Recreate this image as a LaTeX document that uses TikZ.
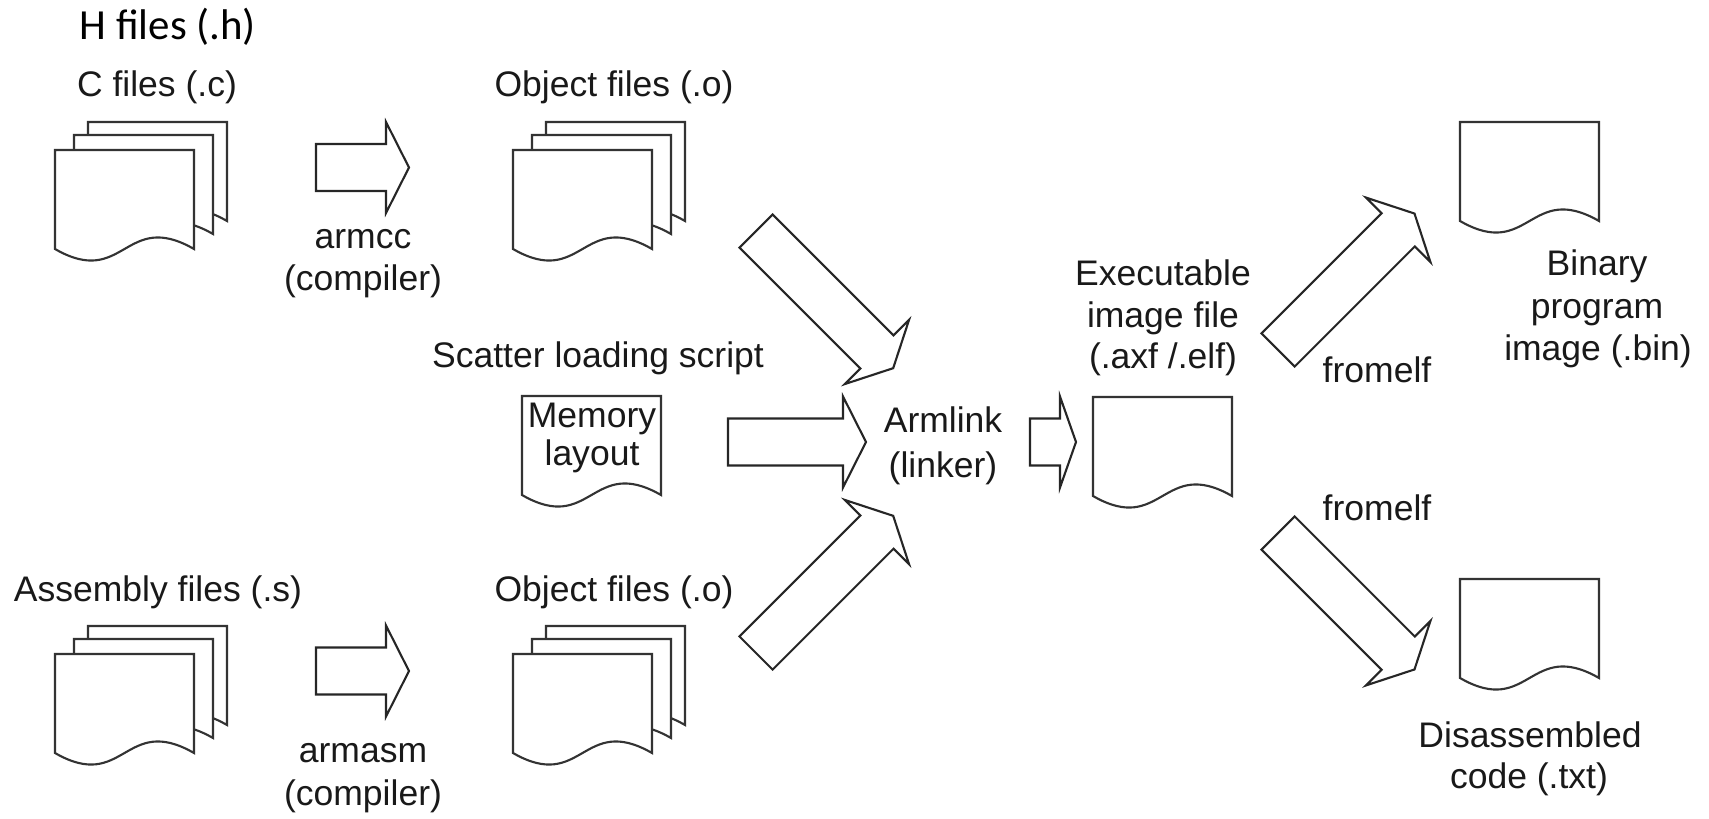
\documentclass[tikz,border=0pt]{standalone}
\usepackage{fontspec}
\setmainfont{Liberation Sans}
\newfontfamily\calibri{Carlito}
\tikzset{
  lbl/.style={font=\fontsize{10.1}{12}\selectfont, inner sep=0pt, anchor=base, text=black!90},
  hlbl/.style={font=\calibri\fontsize{12.2}{14}\selectfont, inner sep=0pt, anchor=base west, text=black},
  pg/.style={draw=black!80, line width=0.6pt, fill=white, line join=miter},
  blk/.style={draw=black!85, line width=0.6pt, fill=white, line join=miter},
  pics/page/.style={code={
    \path[pg] (0,0) -- (139,0) -- (139,99) .. controls (69.5,59) and (69.5,139) .. (0,99) -- cycle;
  }},
  pics/stack/.style={code={
    \pic at (33,-28) {page};
    \pic at (19,-15) {page};
    \pic at (0,0) {page};
  }},
  pics/barrow/.style n args={2}{code={
    \path[blk] (0,-23.5) -- (#1,-23.5) -- (#1,-45.5) -- ({#1+#2},0) -- (#1,45.5) -- (#1,23.5) -- (0,23.5) -- cycle;
  }}
}
\begin{document}
\begin{tikzpicture}[x=0.01cm, y=-0.01cm]
\useasboundingbox (0,0) rectangle (1709,818);

% ---- labels ----
\node[hlbl] (hfiles) at (79,39) {H files (.h)};
\node[lbl] (cfiles) at (157,97) {C files (.c)};
\node[lbl] (objtop) at (614,97) {Object files (.o)};
\node[lbl] (armcc1) at (363,248) {armcc};
\node[lbl] (armcc2) at (363,290) {(compiler)};
\node[lbl] (scatter) at (598,367) {Scatter loading script};
\node[lbl] (asmfiles) at (158,601) {Assembly files (.s)};
\node[lbl] (objbot) at (614,601) {Object files (.o)};
\node[lbl] (armasm1) at (363,762) {armasm};
\node[lbl] (armasm2) at (363,805) {(compiler)};
\node[lbl] (armlink1) at (943,432) {Armlink};
\node[lbl] (armlink2) at (943,477) {(linker)};
\node[lbl] (exe1) at (1163,285) {Executable};
\node[lbl] (exe2) at (1163,327) {image file};
\node[lbl] (exe3) at (1163,368) {(.axf /.elf)};
\node[lbl] (fromelf1) at (1377,382) {fromelf};
\node[lbl] (fromelf2) at (1377,520) {fromelf};
\node[lbl] (bin1) at (1597,275) {Binary};
\node[lbl] (bin2) at (1597,318) {program};
\node[lbl] (bin3) at (1598,360) {image (.bin)};
\node[lbl] (dis1) at (1530,747) {Disassembled};
\node[lbl] (dis2) at (1529,788) {code (.txt)};

% ---- documents ----
\pic at (55,150) {stack};
\pic at (513,150) {stack};
\pic at (55,654) {stack};
\pic at (513,654) {stack};
\pic at (522,396) {page};
\pic at (1093,397) {page};
\pic at (1460,122) {page};
\pic at (1460,579) {page};
\node[lbl] (mem1) at (592,427) {Memory};
\node[lbl] (mem2) at (592,465) {layout};

% ---- block arrows ----
\pic at (316,167.5) {barrow={70}{23}};
\pic at (316,671) {barrow={70}{23}};
\pic at (728,442) {barrow={115}{23}};
\pic at (1030,442) {barrow={30}{16}};
\pic[rotate=-45] at (756,231) {barrow={171}{23}};
\pic[rotate=45] at (756,653) {barrow={171}{23}};
\pic[rotate=45] at (1278,350) {barrow={170}{23}};
\pic[rotate=-45] at (1278,533) {barrow={170}{23}};
\end{tikzpicture}
\end{document}
